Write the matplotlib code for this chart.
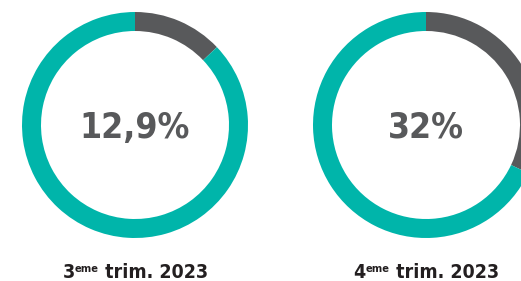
import matplotlib
matplotlib.use("Agg")
import matplotlib.pyplot as plt

values = [12.9, 32.0]
center_labels = ["12,9%", "32%"]
quarter_nums = ["3", "4"]
quarter_sups = ["eme", "eme"]
quarter_rest = [" trim. 2023", " trim. 2023"]

TEAL = "#00b5aa"
DARK = "#58595b"
TEXT = "#231f20"

W, H = 521, 281
fig = plt.figure(figsize=(W / 100, H / 100), dpi=100)
ax = fig.add_axes([0, 0, 1, 1])

centers_x = [135, 426]
cy = H - 125
R = 113
ring = 19

FONT = dict(family="DejaVu Sans", fontweight="bold", fontstretch="condensed")

for i, v in enumerate(values):
    ax.pie([v, 100 - v], colors=[DARK, TEAL], startangle=90,
           counterclock=False, center=(centers_x[i], cy), radius=R,
           wedgeprops=dict(width=ring, linewidth=0), frame=True)
    ax.text(centers_x[i], H - 138, center_labels[i], ha="center", va="baseline",
            fontsize=25.5, color=DARK, **FONT)

ax.set_xlim(0, W)
ax.set_ylim(0, H)
ax.set_aspect("equal")
ax.axis("off")

fig.canvas.draw()
r = fig.canvas.get_renderer()

label_y = H - 278
for i in range(len(values)):
    parts = [(quarter_nums[i], 14, 0), (quarter_sups[i], 8, 5.5), (quarter_rest[i], 14, 0)]
    texts = []
    widths = []
    for s, fs, dy in parts:
        t = ax.text(0, label_y + dy, s, ha="left", va="baseline", fontsize=fs,
                    color=TEXT, **FONT)
        bb = t.get_window_extent(renderer=r)
        widths.append(bb.width)
        texts.append(t)
    total = sum(widths)
    x = centers_x[i] - total / 2
    for t, w in zip(texts, widths):
        t.set_x(x)
        x += w

fig.savefig("out.png", dpi=100)
